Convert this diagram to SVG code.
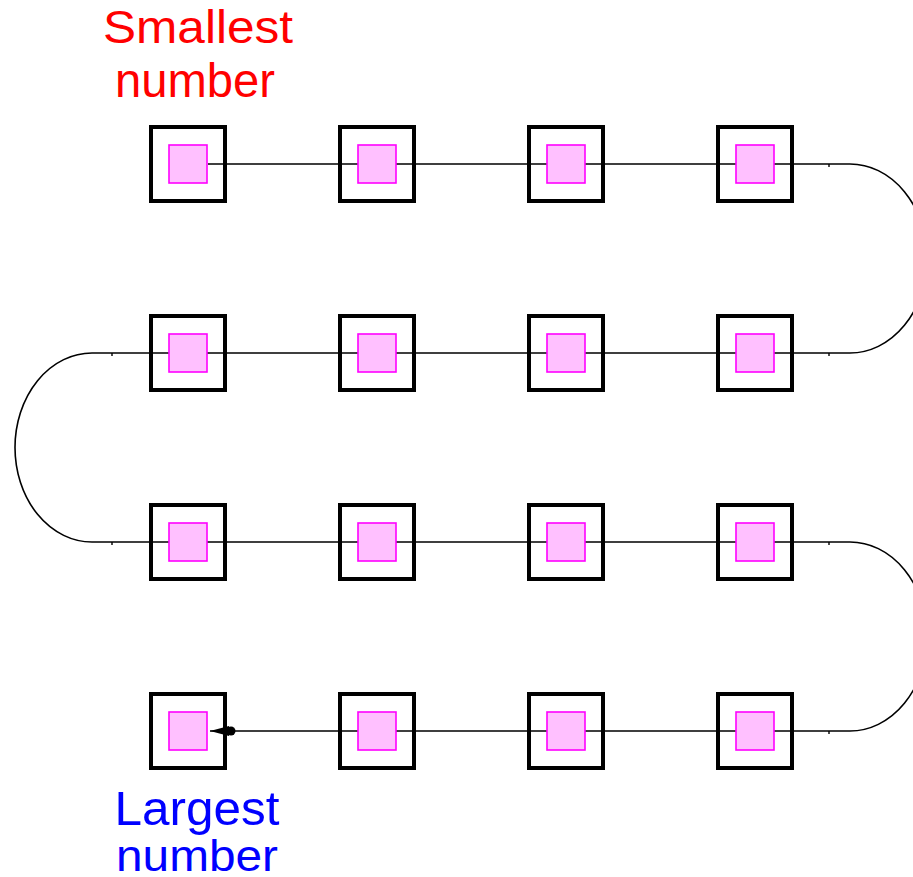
<svg xmlns="http://www.w3.org/2000/svg" width="913" height="877" viewBox="0 0 913 877">
<style>
.outer{fill:none;stroke:#000000;stroke-width:4}
.inner{fill:#ffc0ff;stroke:#ff00ff;stroke-width:1.6}
.conn{fill:none;stroke:#000000;stroke-width:1.6}
.tick{stroke:#000000;stroke-width:1.4}
.lbl{font-family:"Liberation Sans",Arial,sans-serif;text-anchor:middle}
</style>
<defs>
<marker id="arr" markerUnits="userSpaceOnUse" markerWidth="32" markerHeight="14" viewBox="-32 -7 32 14" refX="0" refY="0" orient="auto">
<path d="M0,0 L-19,-5 L-19,5 Z" fill="#000000"/>
<circle cx="-21" cy="0" r="4.5" fill="#000000"/>
</marker>
</defs>
<rect width="913" height="877" fill="#ffffff"/>
<g id="connectors">
<path class="conn" d="M208,164 H850 A77,94.5 0 0 1 850,353 H92 A77,94.5 0 0 0 92,542 H850 A77,94.5 0 0 1 850,731 H210" marker-end="url(#arr)"/>
<line class="tick" x1="829" y1="164" x2="829" y2="167"/>
<line class="tick" x1="829" y1="353" x2="829" y2="356"/>
<line class="tick" x1="112" y1="353" x2="112" y2="356"/>
<line class="tick" x1="112" y1="542" x2="112" y2="545"/>
<line class="tick" x1="829" y1="542" x2="829" y2="545"/>
<line class="tick" x1="829" y1="731" x2="829" y2="734"/>
</g>
<g id="n1"><rect class="outer" x="151" y="127" width="74" height="74"/><rect class="inner" x="169" y="145" width="38" height="38"/></g>
<g id="n2"><rect class="outer" x="340" y="127" width="74" height="74"/><rect class="inner" x="358" y="145" width="38" height="38"/></g>
<g id="n3"><rect class="outer" x="529" y="127" width="74" height="74"/><rect class="inner" x="547" y="145" width="38" height="38"/></g>
<g id="n4"><rect class="outer" x="718" y="127" width="74" height="74"/><rect class="inner" x="736" y="145" width="38" height="38"/></g>
<g id="n5"><rect class="outer" x="151" y="316" width="74" height="74"/><rect class="inner" x="169" y="334" width="38" height="38"/></g>
<g id="n6"><rect class="outer" x="340" y="316" width="74" height="74"/><rect class="inner" x="358" y="334" width="38" height="38"/></g>
<g id="n7"><rect class="outer" x="529" y="316" width="74" height="74"/><rect class="inner" x="547" y="334" width="38" height="38"/></g>
<g id="n8"><rect class="outer" x="718" y="316" width="74" height="74"/><rect class="inner" x="736" y="334" width="38" height="38"/></g>
<g id="n9"><rect class="outer" x="151" y="505" width="74" height="74"/><rect class="inner" x="169" y="523" width="38" height="38"/></g>
<g id="n10"><rect class="outer" x="340" y="505" width="74" height="74"/><rect class="inner" x="358" y="523" width="38" height="38"/></g>
<g id="n11"><rect class="outer" x="529" y="505" width="74" height="74"/><rect class="inner" x="547" y="523" width="38" height="38"/></g>
<g id="n12"><rect class="outer" x="718" y="505" width="74" height="74"/><rect class="inner" x="736" y="523" width="38" height="38"/></g>
<g id="n13"><rect class="outer" x="151" y="694" width="74" height="74"/><rect class="inner" x="169" y="712" width="38" height="38"/></g>
<g id="n14"><rect class="outer" x="340" y="694" width="74" height="74"/><rect class="inner" x="358" y="712" width="38" height="38"/></g>
<g id="n15"><rect class="outer" x="529" y="694" width="74" height="74"/><rect class="inner" x="547" y="712" width="38" height="38"/></g>
<g id="n16"><rect class="outer" x="718" y="694" width="74" height="74"/><rect class="inner" x="736" y="712" width="38" height="38"/></g>
<g id="label-smallest" fill="#ff0000">
<text class="lbl" x="198" y="43" font-size="46" textLength="190" lengthAdjust="spacingAndGlyphs">Smallest</text>
<text class="lbl" x="195" y="97" font-size="48" textLength="160" lengthAdjust="spacingAndGlyphs">number</text>
</g>
<g id="label-largest" fill="#0000ff">
<text class="lbl" x="197" y="825" font-size="48" textLength="165" lengthAdjust="spacingAndGlyphs">Largest</text>
<text class="lbl" x="197" y="871" font-size="44" textLength="162" lengthAdjust="spacingAndGlyphs">number</text>
</g>
</svg>
